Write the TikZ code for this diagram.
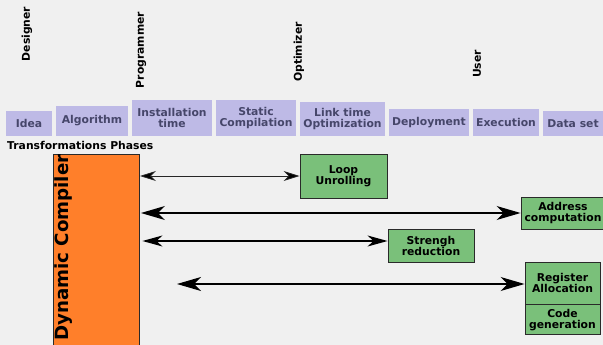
\documentclass[tikz,border=0pt]{standalone}
\usepackage{fontspec}
\setmainfont{DejaVu Sans}
\usetikzlibrary{arrows.meta}

\definecolor{bg}{HTML}{F0F0F0}
\definecolor{phasefill}{HTML}{BEBAE6}
\definecolor{phasetext}{HTML}{46466A}
\definecolor{stepfill}{HTML}{7AC07A}
\definecolor{compfill}{HTML}{FF7F2A}
\definecolor{edge}{HTML}{2A2A2A}

\tikzset{
  lbl/.style={font=\fontsize{10.8}{11}\selectfont\bfseries, align=center, inner sep=0pt},
  phase/.style={lbl, rectangle, fill=phasefill, text=phasetext},
  role/.style={lbl, rotate=90, text=black},
  stepbox/.style={lbl, rectangle, draw=edge, line width=0.9pt, fill=stepfill, text=black},
  link/.style={line width=1.3pt, draw=black,
    {Stealth[length=24pt, width=14pt, inset=7pt]}-{Stealth[length=24pt, width=14pt, inset=7pt]}},
  linkmid/.style={line width=1.2pt, draw=black,
    {Stealth[length=20pt, width=11pt, inset=6pt]}-{Stealth[length=20pt, width=11pt, inset=6pt]}},
  linkthin/.style={line width=0.8pt, draw=black!85,
    {Stealth[length=16pt, width=10pt, inset=5pt, fill=black]}-{Stealth[length=16pt, width=10pt, inset=5pt, fill=black]}},
}

\begin{document}
\begin{tikzpicture}[x=1pt, y=-1pt]
  \useasboundingbox (0,0) rectangle (603,345);
  \fill[bg] (0,0) rectangle (603,345);

  % roles
  \node[role] (designer)   at (27,34)  {Designer};
  \node[role] (programmer) at (141,50) {Programmer};
  \node[role] (optimizer)  at (299,52) {Optimizer};
  \node[role] (user)       at (477,64) {User};

  % phases of a program's life
  \node[phase, minimum width=46pt, minimum height=25pt] (idea)    at (29,123.5)  {Idea};
  \node[phase, minimum width=72pt, minimum height=30pt] (algo)    at (92,121)    {Algorithm};
  \node[phase, minimum width=80pt, minimum height=36pt] (install) at (172,118)   {Installation\\time};
  \node[phase, minimum width=80pt, minimum height=36pt] (static)  at (256,118)   {Static\\Compilation};
  \node[phase, minimum width=85pt, minimum height=34pt] (linkopt) at (342.5,119) {Link time\\Optimization};
  \node[phase, minimum width=80pt, minimum height=27pt] (deploy)  at (429,122.5) {Deployment};
  \node[phase, minimum width=66pt, minimum height=27pt] (exec)    at (506,122.5) {Execution};
  \node[phase, minimum width=60pt, minimum height=25pt] (data)    at (573,123.5) {Data set};

  \node[lbl, anchor=west] (title) at (7,145) {Transformations Phases};

  % dynamic compiler
  \node[rectangle, draw=edge, line width=0.9pt, fill=compfill, inner sep=0pt,
        minimum width=86pt, minimum height=196pt] (dc) at (96,252) {};
  \node[font=\fontsize{18.2}{20}\selectfont\bfseries, rotate=90, inner sep=0pt,
        anchor=base west] (dctext) at (68,341) {Dynamic Compiler};

  % transformations
  \node[stepbox, minimum width=87pt, minimum height=44pt] (loop) at (343.5,176) {Loop\\Unrolling};
  \node[stepbox, minimum width=84pt, minimum height=32pt] (addr) at (563,213)   {Address\\computation};
  \node[stepbox, minimum width=86pt, minimum height=33pt] (sr)   at (431,245.5) {Strengh\\reduction};
  \node[stepbox, minimum width=75pt, minimum height=42pt] (reg)  at (562.5,283) {Register\\Allocation};
  \node[stepbox, minimum width=75pt, minimum height=30pt, anchor=north] (cg) at (reg.south) {Code\\generation};

  \coordinate (regstart) at (177,284);

  \draw[linkthin] ([xshift=0.5pt]dc.east |- loop.west) -- (loop.west);
  \draw[link] ([xshift=1.5pt]dc.east |- addr.west) -- (addr.west);
  \draw[linkmid] ([xshift=3pt,yshift=4.5pt]dc.east |- sr.west) -- ([yshift=4.5pt]sr.west);
  \draw[link] (regstart) -- (reg.west |- regstart);
\end{tikzpicture}
\end{document}
